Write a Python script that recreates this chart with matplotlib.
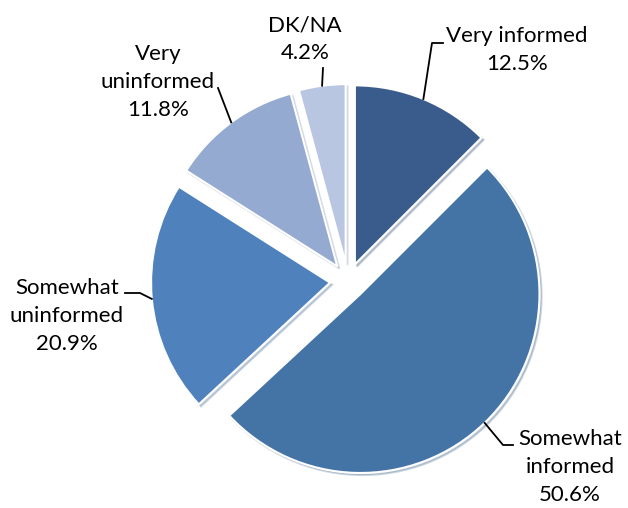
import numpy as np
import matplotlib.pyplot as plt

categories = ["Very informed", "Somewhat informed", "Somewhat uninformed",
              "Very uninformed", "DK/NA"]
shares = [12.5, 50.6, 20.9, 11.8, 4.2]
label_text = ["Very informed", "Somewhat\ninformed", "Somewhat\nuninformed",
              "Very\nuninformed", "DK/NA"]
colors = ["#3A5C8C", "#4473A6", "#4F81BD", "#95AAD0", "#B9C6E2"]

plt.rcParams["font.family"] = ["Lato", "DejaVu Sans"]

fig = plt.figure(figsize=(6.28, 5.08), dpi=100)
ax = fig.add_axes([0, 0, 1, 1])

# pixel-like coordinates, y up; explode is in data units here
wedges, _ = ax.pie(
    shares, colors=colors, startangle=90, counterclock=False,
    explode=[18] * len(shares), center=(348, 508 - 281), radius=179,
    wedgeprops=dict(edgecolor="white", linewidth=1.5),
    shadow=dict(ox=1.5, oy=-1.5, shade=0.2, alpha=0.25),
)
ax.set_xlim(0, 628)
ax.set_ylim(0, 508)
ax.axis("off")

# label placement (text centre, elbow points) in image pixels (y down)
text_pos = [(517, 50), (570, 467), (67, 316), (158, 82), (305, 39)]
elbows = [
    [(432, 43), (443, 43)],
    [(503, 445), (513, 445)],
    [(140, 293), (125, 293)],
    [(218, 88)],
    [(323, 68)],
]

for w, name, share, (tx, ty), elb in zip(wedges, label_text, shares, text_pos, elbows):
    mid = np.deg2rad((w.theta1 + w.theta2) / 2)
    cx, cy = w.center
    ax_pt = (cx + w.r * np.cos(mid), cy + w.r * np.sin(mid))
    xs = [ax_pt[0]] + [p[0] for p in elb]
    ys = [ax_pt[1]] + [508 - p[1] for p in elb]
    ax.plot(xs, ys, color="black", linewidth=1.3, zorder=5)
    ax.text(tx, 508 - ty, f"{name}\n{share:.1f}%", ha="center", va="center",
            fontsize=16, color="black", linespacing=1.5, zorder=6)

fig.savefig("out.png", dpi=100, facecolor="white")
